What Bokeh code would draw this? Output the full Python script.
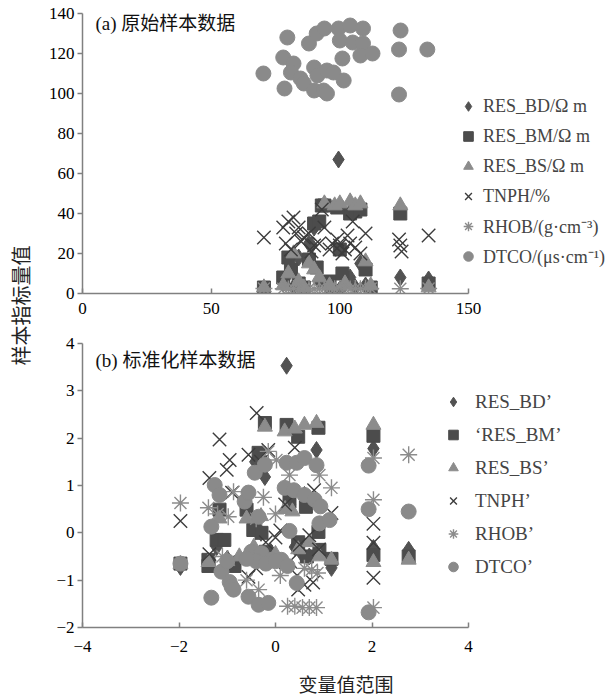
from bokeh.plotting import figure
from bokeh.layouts import column, row
from bokeh.models import Range1d, FixedTicker, Legend, LegendItem, Label, ColumnDataSource
from bokeh.core.properties import value
from bokeh.embed import file_html
from bokeh.resources import INLINE
import math

SERIF = "Liberation Serif"
MIXED = "'Liberation Serif', 'Noto Sans CJK SC'"
CJK = "Noto Sans CJK SC"

# ---------------- panel (a): raw sample data ----------------
a_bd_x = [70.5, 78, 80, 82, 84, 88, 89, 90, 91, 92, 95, 97, 99.5, 100, 102, 104, 106, 108, 110, 112, 123.5, 134.5]
a_bd_y = [2, 5, 10, 3, 18, 25, 24, 33, 35, 6, 4, 3, 67, 2, 5, 8, 3, 15, 4, 3, 8, 7]

a_bm_x = [70.5, 78, 80, 81, 84, 86, 88, 90, 91, 92, 93, 94, 96, 99, 100, 101, 104, 106, 108, 110, 112, 123.5, 134.5]
a_bm_y = [3, 8, 18, 12, 5, 3, 17, 35, 13, 36, 44, 44, 6, 43, 22, 10, 40, 41, 42, 12, 3, 40, 5]

a_bs_x = [70.5, 78, 80, 82, 84, 86, 88, 90, 92, 94, 96, 98, 100, 102, 104, 106, 108, 110, 112, 123.5, 134.5]
a_bs_y = [3, 4, 10, 20, 6, 3, 15, 12, 8, 45, 4, 44, 45, 5, 46, 44, 45, 16, 4, 44, 3]

a_tn_x = [70.5, 78, 79, 80, 81, 82, 83, 84, 85, 86, 88, 89, 90, 92, 93, 94, 96, 97, 99, 100,
          101, 102, 103, 104, 105, 106, 108, 110, 123, 123.5, 124, 134.5]
a_tn_y = [28, 33, 25, 36, 22, 38, 30, 33, 26, 28, 30, 21, 24, 25, 42, 33, 22, 25, 27, 24,
          20, 22, 29, 25, 36, 23, 20, 30, 27, 24, 21, 29]

a_rh_x = [70.5, 78, 80, 82, 84, 86, 88, 90, 92, 94, 96, 98, 100, 102, 104, 106, 108, 110, 112, 123.5, 134.5]
a_rh_y = [2.5, 2.4, 2.3, 2.5, 2.6, 2.4, 2.5, 2.3, 2.4, 2.5, 2.6, 2.4, 2.5, 2.4, 2.3, 2.5, 2.4, 2.6, 2.5, 2.4, 2.5]

a_dt_x = [70.3, 78.5, 79.6, 78, 82, 81, 84.7, 86, 88, 91, 94, 90, 91.3, 90, 93.7, 95, 97.5, 101.5,
          101, 99.5, 104, 109, 100, 105, 109, 108, 112.7, 123.6, 123, 134, 123, 95]
a_dt_y = [110, 102.5, 128, 118, 115, 110.5, 107.5, 105, 125, 130, 132.5, 113, 109, 101.5, 101.5, 111.5,
          110.5, 106.5, 117.5, 132.5, 134, 132.5, 126.5, 125.5, 125, 119, 120, 131.5, 122, 122, 99.5, 100]

a_labels = ["RES_BD/\u03a9 m", "RES_BM/\u03a9 m", "RES_BS/\u03a9 m", "TNPH/%",
            "RHOB/(g\u00b7cm\u207b\u00b3)", "DTCO/(\u03bcs\u00b7cm\u207b\u00b9)"]
a_xlim = (0, 150)
a_ylim = (0, 140)
a_xticks = [0, 50, 100, 150]
a_yticks = [0, 20, 40, 60, 80, 100, 120, 140]

# ---------------- panel (b): standardized sample data ----------------
b_bd_x = [-1.97, -1.39, -1.22, -1.0, -0.85, -0.6, -0.42, -0.22, -0.3, -0.1, 0.1, 0.23, 0.4, 0.55, 0.7,
          0.85, 0.91, 1.16, 2.03, 2.03, 2.76, -0.4, 0.3, 0.6]
b_bd_y = [-0.72, -0.6, -0.3, -0.55, -0.65, -0.5, 1.5, 1.18, 0.0, -0.4, -0.6, 3.53, -0.3, -0.45, -0.5,
          1.75, -0.4, -0.74, 1.78, -0.32, -0.36, 0.2, 0.6, 0.8]

b_bm_x = [-1.97, -1.39, -1.39, -1.22, -1.16, -1.06, -0.85, -0.6, -0.46, -0.35, -0.29, -0.22, 0.23, 0.29,
          0.47, 0.47, 0.63, 0.65, 0.89, 0.89, 0.91, 1.16, 2.03, 2.03, 2.76, -0.2]
b_bm_y = [-0.65, -0.57, -0.7, -0.15, 0.49, -0.15, -0.7, 0.49, 0.06, 1.69, 0.0, 2.32, 2.28, 0.66,
          2.03, -0.2, 0.55, -0.5, 2.22, 0.02, -0.36, -0.55, 2.05, -0.47, -0.5, -0.4]

b_bs_x = [-1.97, -1.39, -1.16, -1.0, -0.75, -0.6, -0.45, -0.22, 0.0, 0.19, 0.2, 0.4, 0.47, 0.6, 0.7,
          0.85, 0.91, 1.16, 2.03, 2.03, 2.76, -0.3, 0.35]
b_bs_y = [-0.66, -0.62, 0.3, -0.6, -0.5, 0.3, -0.3, 2.24, -0.45, 2.14, 0.5, 2.2, -0.35, 2.28, -0.2,
          2.32, -0.5, -0.57, 2.28, -0.62, -0.57, 0.35, 0.45]

b_tn_x = [-1.97, -1.37, -1.16, -1.01, -0.95, -0.9, -0.56, -0.56, -0.39, -0.15, -0.4, -0.2, 0.0, 0.1,
          0.3, 0.4, 0.45, 0.5, 0.47, 0.6, 0.78, 0.8, 0.7, 1.16, 0.9, 2.03, 2.03, 2.03, -1.37, -0.3, 0.2]
b_tn_y = [0.25, 1.16, 1.97, 1.33, 1.54, 0.85, 1.65, -0.93, 2.53, 1.75, -0.75, -0.2, -0.1, 0.05,
          -0.6, 1.8, -0.9, -0.25, -1.2, -1.1, -1.05, 0.9, -0.05, 0.42, -0.35, 0.19, -0.21, -0.95, -0.45, 1.5, 0.6]

b_rh_x = [-1.97, -1.39, -1.2, -0.98, -0.87, -0.6, -0.35, -0.25, -0.15, 0.02, 0.1, 0.25, 0.29, 0.4,
          0.56, 0.7, 0.85, 0.75, 0.87, 0.91, 1.16, 0.6, 2.03, 2.03, 2.03, 2.76, -0.4, -1.1, 0.0]
b_rh_y = [0.63, 0.53, 0.4, 0.34, 0.87, -1.0, -1.2, 0.75, 1.72, 1.54, -0.9, -1.55, 1.22, -1.55,
          -1.58, -1.58, -1.58, -0.78, -0.85, 1.22, 0.95, -0.75, 1.58, 0.7, -1.58, 1.65, 0.3, -0.5, 0.4]

b_dt_x = [-1.97, -1.33, -1.33, -1.26, -1.16, -1.12, -1.0, -0.95, -0.91, -0.87, -0.64, -0.56, -0.56,
          -0.5, -0.43, -0.35, -0.35, -0.29, -0.22, -0.15, -0.08, 0.12, 0.19, 0.23, 0.29, 0.38, 0.44,
          0.44, 0.6, 0.6, 0.81, 0.85, 0.91, 0.93, 1.12, 1.93, 1.93, 1.93, 2.76, -0.4, -0.2, 0.0, 0.25, -0.6]
b_dt_y = [-0.65, 0.13, -1.37, 1.01, 0.8, -0.82, -0.6, -1.04, -1.14, -1.2, 0.66, 0.85, -1.35,
          -0.4, 1.27, 0.34, -1.52, -0.43, 1.44, -1.48, -0.57, -0.57, 0.95, 1.48, 0.04, 0.9, 1.48,
          -1.06, 1.58, 0.8, 0.7, 1.43, 0.2, 0.56, 0.27, 1.42, 0.5, -1.68, 0.45, -0.6, -0.65, -0.6, -0.7, -0.55]

b_labels = ["RES_BD\u2019", "\u2018RES_BM\u2019", "RES_BS\u2019", "TNPH\u2019", "RHOB\u2019", "DTCO\u2019"]
b_xlim = (-4, 4)
b_ylim = (-2, 4)
b_xticks = [-4, -2, 0, 2, 4]
b_yticks = [-2, -1, 0, 1, 2, 3, 4]

AXIS_COLOR = "#808080"

# marker styles: (marker, fill colour, line colour, size)
STYLES = [
    ("diamond", "#525252", "#525252", 17),
    ("square", "#4c4c4c", "#4c4c4c", 13),
    ("triangle", "#8c8c8c", "#8c8c8c", 15),
    ("x", None, "#3c3c3c", 19),
    ("asterisk", None, "#8c8c8c", 17),
    ("circle", "#8a8a8a", "#8a8a8a", 15),
]

# layout (pixels)
LAB_W = 38
FIG_W = 575
BORDER_L = 44
BORDER_R = 4
AXIS_W = 386                       # length of the drawn x axis
FRAME_W = FIG_W - BORDER_L - BORDER_R


def extended(lim):
    # frame is wider than the axis, so the legend can sit inside it
    lo, hi = lim
    return Range1d(lo, lo + (hi - lo) * FRAME_W / AXIS_W)


def style_axes(p, xlim, xticks, yticks, x_standoff):
    p.xgrid.visible = False
    p.ygrid.visible = False
    p.outline_line_color = None
    p.background_fill_color = "white"
    p.border_fill_color = "white"
    for ax in p.xaxis:
        ax.ticker = FixedTicker(ticks=xticks)
        ax.bounds = xlim
        ax.major_tick_in = 5
        ax.major_tick_out = 0
        ax.major_label_standoff = x_standoff
    for ax in p.yaxis:
        ax.ticker = FixedTicker(ticks=yticks)
        ax.major_tick_in = 0
        ax.major_tick_out = 5
        ax.major_label_standoff = 3
    for ax in list(p.xaxis) + list(p.yaxis):
        ax.minor_tick_line_color = None
        ax.axis_line_color = AXIS_COLOR
        ax.axis_line_width = 1.5
        ax.major_tick_line_color = AXIS_COLOR
        ax.major_tick_line_width = 1.5
        ax.major_label_text_font = SERIF
        ax.major_label_text_font_size = "17px"
        ax.major_label_text_color = "black"


def add_series(p, xs, ys, labels):
    items = []
    for (x, y, lab, st) in zip(xs, ys, labels, STYLES):
        marker, fill, line, size = st
        src = ColumnDataSource(dict(x=x, y=y))
        r = p.scatter("x", "y", source=src, marker=marker, size=size,
                      fill_color=fill, line_color=line,
                      line_width=1.4 if fill is None else 1)
        items.append(LegendItem(label=lab, renderers=[r]))
    return items


# ---------------- y label figure ----------------
lab_fig = figure(width=LAB_W, height=700, x_range=Range1d(0, LAB_W), y_range=Range1d(0, 700),
                 output_backend="svg", toolbar_location=None,
                 min_border=0, min_border_left=0, min_border_right=0, min_border_top=0, min_border_bottom=0)
lab_fig.axis.visible = False
lab_fig.grid.visible = False
lab_fig.outline_line_color = None
lab_fig.text(x=[20], y=[395], text=["样本指标量值"], angle=math.pi / 2,
             text_font=value(CJK), text_font_size="20px", text_align="center",
             text_baseline="middle", text_color="#222222")

# ---------------- panel (a) ----------------
pa = figure(width=FIG_W, height=325, x_range=extended(a_xlim), y_range=Range1d(*a_ylim),
            output_backend="svg", toolbar_location=None,
            min_border_left=BORDER_L, min_border_right=BORDER_R, min_border_top=13, min_border_bottom=32)
style_axes(pa, a_xlim, a_xticks, a_yticks, 9)
items_a = add_series(pa,
                     [a_bd_x, a_bm_x, a_bs_x, a_tn_x, a_rh_x, a_dt_x],
                     [a_bd_y, a_bm_y, a_bs_y, a_tn_y, a_rh_y, a_dt_y], a_labels)
leg_a = Legend(items=items_a, location=(374, 25), orientation="vertical",
               glyph_width=24, glyph_height=24, label_height=24, spacing=6,
               label_standoff=3, padding=0, margin=0,
               label_text_font=SERIF, label_text_font_size="18px",
               border_line_color=None, background_fill_alpha=0)
pa.add_layout(leg_a, "center")
pa.add_layout(Label(x=13, y=270, x_units="screen", y_units="screen", text="(a) 原始样本数据",
                    text_font=MIXED, text_font_size="19px", text_baseline="middle",
                    text_color="#111111"))

# ---------------- panel (b) ----------------
pb = figure(width=FIG_W, height=375, x_range=extended(b_xlim), y_range=Range1d(*b_ylim),
            output_backend="svg", toolbar_location=None,
            min_border_left=BORDER_L, min_border_right=BORDER_R, min_border_top=18, min_border_bottom=73)
style_axes(pb, b_xlim, b_xticks, b_yticks, 13)
pb.xaxis.axis_label = "变量值范围"
pb.xaxis.axis_label_text_font = CJK
pb.xaxis.axis_label_text_font_size = "19px"
pb.xaxis.axis_label_text_font_style = "normal"
pb.xaxis.axis_label_text_color = "#222222"
pb.xaxis.axis_label_standoff = 15
items_b = add_series(pb,
                     [b_bd_x, b_bm_x, b_bs_x, b_tn_x, b_rh_x, b_dt_x],
                     [b_bd_y, b_bm_y, b_bs_y, b_tn_y, b_rh_y, b_dt_y], b_labels)
leg_b = Legend(items=items_b, location=(359, 47), orientation="vertical",
               glyph_width=24, glyph_height=27, label_height=27, spacing=6,
               label_standoff=10, padding=0, margin=0,
               label_text_font=SERIF, label_text_font_size="19px",
               border_line_color=None, background_fill_alpha=0)
pb.add_layout(leg_b, "center")
pb.add_layout(Label(x=13, y=267, x_units="screen", y_units="screen", text="(b) 标准化样本数据",
                    text_font=MIXED, text_font_size="19px", text_baseline="middle",
                    text_color="#111111"))

layout = row(lab_fig, column(pa, pb))
open("out.html", "w").write(file_html(layout, INLINE))
